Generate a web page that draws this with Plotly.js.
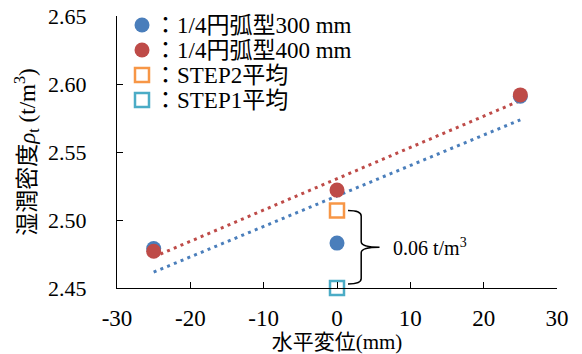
<!DOCTYPE html>
<html><head><meta charset="utf-8">
<script src="https://cdn.plot.ly/plotly-3.0.1.min.js"></script>
<style>body{margin:0;background:#fff}#c{width:582px;height:354px}</style>
</head><body><div id="c"></div>
<script>
const xPos = [-25, 0, 25];
const arc300 = [2.479, 2.483, 2.591];
const arc400 = [2.477, 2.522, 2.592];
const step2X = [0], step2Y = [2.507];
const step1X = [0], step1Y = [2.450];
const names = ['：1/4円弧型300 mm', '：1/4円弧型400 mm', '：STEP2平均', '：STEP1平均'];
const xTickVals = [-30, -20, -10, 0, 10, 20, 30];
const xTickText = ['-30', '-20', '-10', '0', '10', '20', '30'];
const diffLabel = '0.06 t/m<sup>3</sup>';

function fit(xs, ys) {
  const n = xs.length;
  const mx = xs.reduce((a,b)=>a+b,0)/n, my = ys.reduce((a,b)=>a+b,0)/n;
  let sxy=0, sxx=0;
  for (let i=0;i<n;i++){ sxy+=(xs[i]-mx)*(ys[i]-my); sxx+=(xs[i]-mx)**2; }
  const b = sxy/sxx, a = my - b*mx;
  return xs.map(x => a + b*x);
}
const blue='#4a7ebb', red='#be4b48', orange='#f79646', teal='#4bacc6';
const colors = [blue, red, orange, teal];
const font = 'Liberation Serif, Times New Roman, Noto Sans CJK JP, serif';
const fitX = [xPos[0], xPos[xPos.length-1]];
const f300 = fit(xPos, arc300), f400 = fit(xPos, arc400);

const traces = [
  {x: fitX, y: [f300[0], f300[f300.length-1]], mode:'lines', line:{color:blue, width:3, dash:'3px,4.3px'}, hoverinfo:'skip'},
  {x: fitX, y: [f400[0], f400[f400.length-1]], mode:'lines', line:{color:red, width:3, dash:'3px,4.3px'}, hoverinfo:'skip'},
  {x: xPos, y: arc300, mode:'markers', name:names[0], marker:{color:blue, size:15}, cliponaxis:false},
  {x: xPos, y: arc400, mode:'markers', name:names[1], marker:{color:red, size:15}, cliponaxis:false},
  {x: step2X, y: step2Y, mode:'markers', name:names[2], marker:{symbol:'square-open', color:orange, size:14, line:{width:2.5}}, cliponaxis:false},
  {x: step1X, y: step1Y, mode:'markers', name:names[3], marker:{symbol:'square-open', color:teal, size:14, line:{width:2.5}}, cliponaxis:false}
];

// plot area geometry (px)
const L = 117, R = 25, T = 16, B = 66, W = 582, H = 354;
const pw = W - L - R, ph = H - T - B;
const px = v => (v - L) / pw, py = v => (H - B - v) / ph;

const shapes = [];
const annotations = [];
// custom legend
const legX = 142, legY0 = 25, legDY = 25;
names.forEach((nm, i) => {
  const cy = legY0 + i * legDY;
  if (i < 2) {
    shapes.push({type:'circle', xref:'paper', yref:'paper', x0:px(legX-7.5), x1:px(legX+7.5), y0:py(cy+7.5), y1:py(cy-7.5),
                 fillcolor:colors[i], line:{width:0}});
  } else {
    shapes.push({type:'rect', xref:'paper', yref:'paper', x0:px(legX-7), x1:px(legX+7), y0:py(cy+7), y1:py(cy-7),
                 fillcolor:'rgba(0,0,0,0)', line:{color:colors[i], width:2.5}});
  }
  annotations.push({xref:'paper', yref:'paper', x:px(152), y:py(cy), text:nm, showarrow:false, xanchor:'left', yanchor:'middle',
                    font:{size:23}});
});

const yTop = step2Y[0], yBot = step1Y[0] + 0.003;
const x0 = 1.5, x1 = 3.3, xt = 5.8, yMid = (yTop + yBot)/2;
const bracket = `M ${x0},${yTop} Q ${x1},${yTop} ${x1},${yTop-0.004} L ${x1},${yMid+0.004} Q ${x1},${yMid} ${xt},${yMid} Q ${x1},${yMid} ${x1},${yMid-0.004} L ${x1},${yBot+0.004} Q ${x1},${yBot} ${x0},${yBot}`;
shapes.push({type:'path', xref:'x', yref:'y', path:bracket, line:{color:'#000', width:1.5}});
annotations.push({x:xt+1.5, y:yMid, xref:'x', yref:'y', text:diffLabel, showarrow:false, xanchor:'left', yanchor:'middle', font:{size:20}});

const layout = {
  width:W, height:H,
  margin:{l:L, r:R, t:T, b:B},
  paper_bgcolor:'#fff', plot_bgcolor:'#fff',
  font:{family:font, size:22, color:'#000'},
  showlegend:false,
  xaxis:{range:[-30,30], tickvals:xTickVals, ticktext:xTickText, ticks:'inside', ticklen:6, tickcolor:'#000', showline:true, linecolor:'#000', linewidth:1, showgrid:false, zeroline:false,
         ticklabelstandoff:9, automargin:false,
         title:{text:'水平変位(mm)', standoff:1, font:{size:21}}, tickfont:{size:23}},
  yaxis:{range:[2.45,2.65], dtick:0.05, tickformat:'.2f', ticks:'inside', ticklen:6, tickcolor:'#000', showline:true, linecolor:'#000', linewidth:1, showgrid:false, zeroline:false,
         ticklabelstandoff:25, automargin:false,
         title:{text:'湿潤密度<i>ρ</i><sub>t</sub> (t/m<sup>3</sup>)', standoff:6, font:{size:23}}, tickfont:{size:22}},
  shapes:shapes,
  annotations:annotations
};
Plotly.newPlot('c', traces, layout, {displayModeBar:false, staticPlot:true});
</script></body></html>
